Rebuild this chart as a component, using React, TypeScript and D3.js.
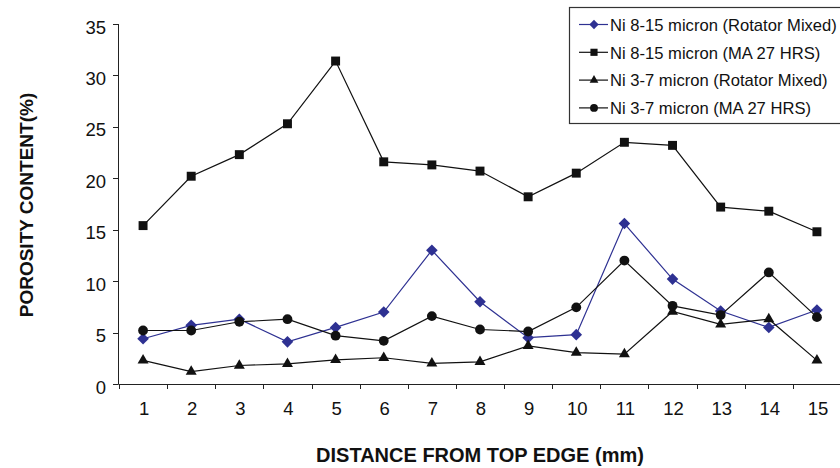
import React from "react";
import * as d3 from "d3";

// distance from top edge (mm)
const distances = ["1", "2", "3", "4", "5", "6", "7", "8", "9", "10", "11", "12", "13", "14", "15"];

// porosity content (%) per series
const ni815Rotator = [4.4, 5.7, 6.3, 4.1, 5.5, 7.0, 13.0, 8.0, 4.5, 4.8, 15.6, 10.2, 7.1, 5.5, 7.2];
const ni815MA = [15.4, 20.2, 22.3, 25.3, 31.4, 21.6, 21.3, 20.7, 18.2, 20.5, 23.5, 23.2, 17.2, 16.8, 14.8];
const ni37Rotator = [2.3, 1.2, 1.8, 1.95, 2.35, 2.55, 2.0, 2.15, 3.7, 3.05, 2.9, 7.05, 5.8, 6.3, 2.3];
const ni37MA = [5.2, 5.2, 6.05, 6.3, 4.7, 4.2, 6.6, 5.3, 5.1, 7.45, 12.0, 7.6, 6.7, 10.85, 6.5];

const yTicks = [0, 5, 10, 15, 20, 25, 30, 35];

const series = [
  { name: "Ni 8-15 micron (Rotator Mixed)", values: ni815Rotator, color: "#2e3192", shape: "diamond" },
  { name: "Ni 8-15 micron (MA 27 HRS)", values: ni815MA, color: "#111111", shape: "square" },
  { name: "Ni 3-7 micron (Rotator Mixed)", values: ni37Rotator, color: "#111111", shape: "triangle" },
  { name: "Ni 3-7 micron (MA 27 HRS)", values: ni37MA, color: "#111111", shape: "circle" },
];

const font = "Liberation Sans, Arial, Helvetica, sans-serif";

function markerPath(shape: string, scale: number) {
  if (shape === "diamond") {
    const h = 5.8 * scale;
    return `M0,${-h}L${h},0L0,${h}L${-h},0Z`;
  }
  if (shape === "square") return d3.symbol(d3.symbolSquare, 80 * scale * scale)()!;
  if (shape === "triangle") return d3.symbol(d3.symbolTriangle, 52 * scale * scale)()!;
  return d3.symbol(d3.symbolCircle, 76 * scale * scale)()!;
}

export default function App() {
  const width = 840;
  const height = 468;
  const x = d3.scaleBand().domain(distances).range([119, 841]).paddingInner(0).paddingOuter(0);
  const y = d3.scaleLinear().domain([0, 35]).range([384, 24]);
  const cx = (d: string) => (x(d) as number) + x.bandwidth() / 2;

  const line = d3
    .line<number>()
    .x((_, i) => cx(distances[i]))
    .y((v) => y(v));

  return (
    <svg width={width} height={height} style={{ position: "absolute", left: 0, top: 0, background: "#fff" }}>
      {/* axes */}
      <line x1={118.5} x2={118.5} y1={y(35)} y2={y(0)} stroke="#222" strokeWidth={1} />
      <line x1={118.5} x2={841} y1={y(0) + 0.5} y2={y(0) + 0.5} stroke="#222" strokeWidth={1} />
      {yTicks.map((t) => (
        <g key={t}>
          <line x1={113} x2={118.5} y1={Math.round(y(t)) + 0.5} y2={Math.round(y(t)) + 0.5} stroke="#222" />
          <text x={106} y={y(t) + 9.5} textAnchor="end" fontFamily={font} fontSize={18.5} fill="#111">
            {t}
          </text>
        </g>
      ))}
      {distances.map((d) => (
        <g key={d}>
          <line
            x1={Math.round(x(d) as number) + 0.5}
            x2={Math.round(x(d) as number) + 0.5}
            y1={y(0)}
            y2={y(0) + 5}
            stroke="#222"
          />
          <text x={cx(d) + 1} y={415} textAnchor="middle" fontFamily={font} fontSize={18.5} fill="#111">
            {d}
          </text>
        </g>
      ))}

      {/* series */}
      {series.map((s) => (
        <g key={s.name}>
          <path d={line(s.values) || ""} fill="none" stroke={s.color} strokeWidth={1.2} />
          {s.values.map((v, i) => (
            <path
              key={i}
              d={markerPath(s.shape, 1)}
              transform={`translate(${cx(distances[i])},${y(v)})`}
              fill={s.color}
            />
          ))}
        </g>
      ))}

      {/* axis titles */}
      <text
        x={480}
        y={462}
        textAnchor="middle"
        fontFamily={font}
        fontSize={20}
        fontWeight="bold"
        fill="#111"
      >
        DISTANCE FROM TOP EDGE (mm)
      </text>
      <text
        transform="translate(33,205) rotate(-90)"
        textAnchor="middle"
        fontFamily={font}
        fontSize={19}
        fontWeight="bold"
        fill="#111"
      >
        POROSITY CONTENT(%)
      </text>

      {/* legend */}
      <rect x={569.5} y={7.5} width={275} height={116} fill="#fff" stroke="#333" strokeWidth={1.2} />
      {series.map((s, i) => {
        const ly = 24.5 + i * 27.8;
        return (
          <g key={s.name}>
            <line x1={579} x2={608} y1={ly} y2={ly} stroke={s.color} strokeWidth={1.2} />
            <path d={markerPath(s.shape, 0.8)} transform={`translate(594,${ly})`} fill={s.color} />
            <text x={610} y={ly + 6.3} fontFamily={font} fontSize={16.6} fill="#111">
              {s.name}
            </text>
          </g>
        );
      })}
    </svg>
  );
}
